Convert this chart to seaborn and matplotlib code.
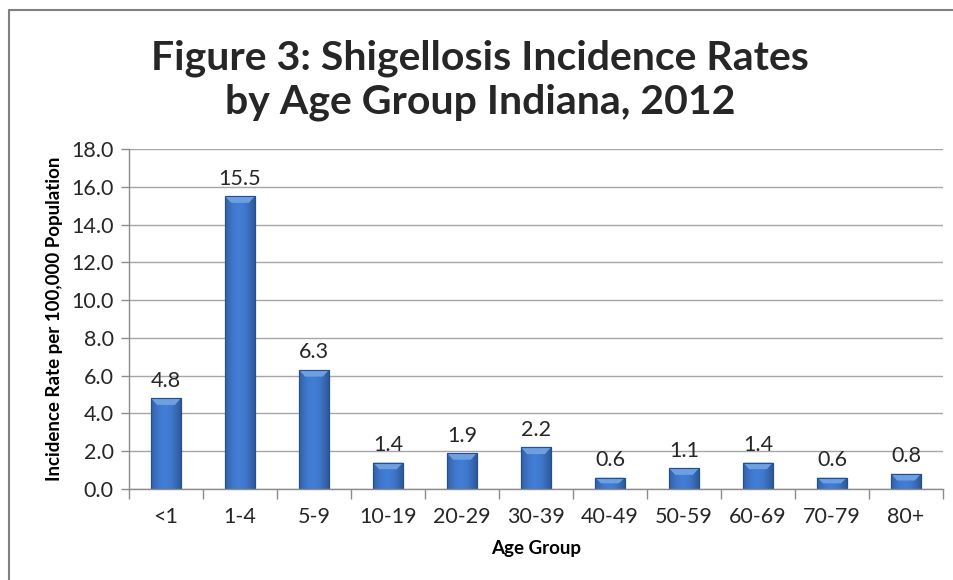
import numpy as np
import pandas as pd
import matplotlib
matplotlib.use('Agg')
import matplotlib.pyplot as plt
import seaborn as sns
from matplotlib.lines import Line2D

age_groups = ['<1', '1-4', '5-9', '10-19', '20-29', '30-39', '40-49', '50-59', '60-69', '70-79', '80+']
rates = [4.8, 15.5, 6.3, 1.4, 1.9, 2.2, 0.6, 1.1, 1.4, 0.6, 0.8]

sns.set_theme(style='white')
plt.rcParams['font.family'] = ['Lato', 'DejaVu Sans']

df = pd.DataFrame({'age': age_groups, 'rate': rates})

fig = plt.figure(figsize=(9.54, 5.8), dpi=100)
ax = fig.add_axes([0.1352, 0.1569, 0.8533, 0.5862])

sns.barplot(data=df, x='age', y='rate', color='#3C72C2', width=0.4,
            edgecolor='#24508F', linewidth=0.8, saturation=1, ax=ax)

# gradient overlay on each bar to mimic the shaded look
grad = np.linspace(0, 1, 64)
shade = np.sin(np.pi * (grad * 0.85 + 0.1))
img = np.zeros((1, 64, 4))
base = np.array([0x3C, 0x72, 0xC2]) / 255
for i in range(64):
    img[0, i, :3] = np.clip(base * (0.72 + 0.38 * shade[i]), 0, 1)
    img[0, i, 3] = 1
for p in ax.patches:
    x0, y0 = p.get_x(), p.get_y()
    w, h = p.get_width(), p.get_height()
    im = ax.imshow(img, extent=[x0, x0 + w, y0, y0 + h], aspect='auto', zorder=p.get_zorder() + 0.1)
    im.set_clip_path(p)
    # top bevel
    bev = min(0.35, h * 0.5)
    ax.fill([x0, x0 + w, x0 + w * 0.8, x0 + w * 0.2], [y0 + h, y0 + h, y0 + h - bev, y0 + h - bev],
            color='#6E9FE0', zorder=p.get_zorder() + 0.2, lw=0)
    ax.add_patch(plt.Rectangle((x0, y0), w, h, fill=False, edgecolor='#24508F', lw=0.8,
                               zorder=p.get_zorder() + 0.3))

for i, v in enumerate(rates):
    ax.text(i, v + 0.4, f'{v:.1f}', ha='center', va='bottom', fontsize=15.5, color='#262626')

ax.set_ylim(0, 18)
ax.set_xlim(-0.5, len(age_groups) - 0.5)
ax.set_yticks(np.arange(0, 18.1, 2))
ax.set_yticklabels([f'{t:.1f}' for t in np.arange(0, 18.1, 2)], fontsize=15.5, color='#262626')
ax.yaxis.grid(True, color='#A6A6A6', linewidth=1)
ax.set_axisbelow(True)

ax.set_xticks(range(len(age_groups)))
ax.set_xticklabels(age_groups, fontsize=15.5, color='#262626')
ax.set_xticks(np.arange(-0.5, len(age_groups), 1), minor=True)
ax.tick_params(axis='x', which='major', length=0, pad=13)
ax.tick_params(axis='x', which='minor', length=7, width=1, color='#8C8C8C', direction='out', bottom=True)
ax.tick_params(axis='y', length=6, width=1, color='#8C8C8C', direction='out', left=True, pad=5)

for s in ['top', 'right']:
    ax.spines[s].set_visible(False)
for s in ['left', 'bottom']:
    ax.spines[s].set_color('#8C8C8C')
    ax.spines[s].set_linewidth(1)

ax.set_xlabel('Age Group', fontsize=13.5, fontweight='bold', color='black', labelpad=9)
ax.set_ylabel('Incidence Rate per 100,000 Population', fontsize=13.5, fontweight='bold',
              color='black', labelpad=6)

fig.text(0.503, 0.862, 'Figure 3: Shigellosis Incidence Rates\nby Age Group Indiana, 2012',
         ha='center', va='center', fontsize=29.5, fontweight='bold', linespacing=1.2)

# outer chart frame (left and top edges visible)
fig.add_artist(Line2D([9.5 / 954, 9.5 / 954], [0, 1 - 9.5 / 580], color='#808080', lw=1.5))
fig.add_artist(Line2D([9.5 / 954, 1], [1 - 9.5 / 580, 1 - 9.5 / 580], color='#808080', lw=1.5))

fig.savefig('out.png', dpi=100)
